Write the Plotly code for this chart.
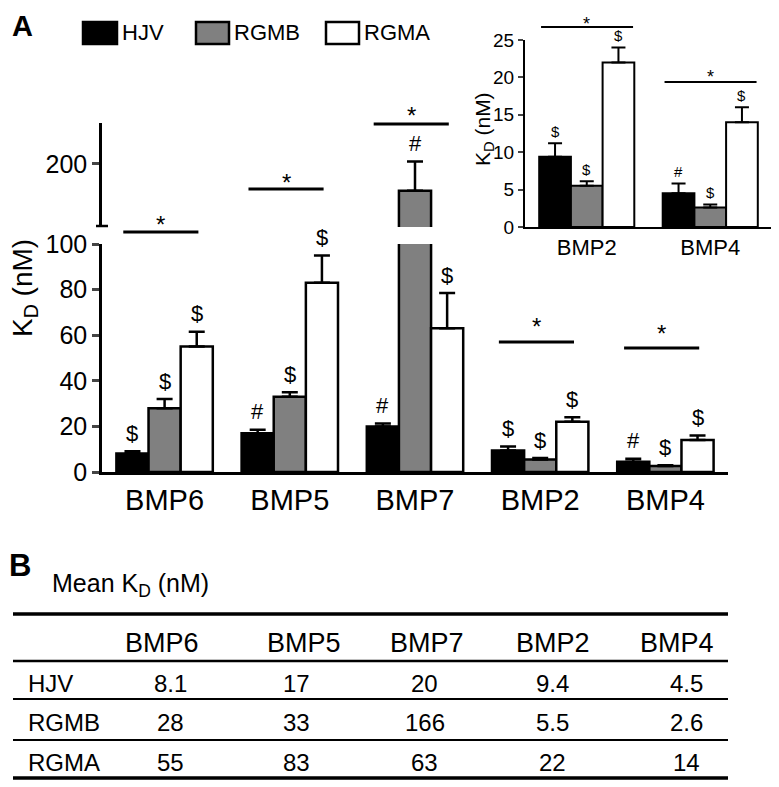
import plotly.graph_objects as go

# ---------------- data ----------------
categories = ["BMP6", "BMP5", "BMP7", "BMP2", "BMP4"]
series_names = ["HJV", "RGMB", "RGMA"]
hjv = [8.1, 17, 20, 9.4, 4.5]
rgmb = [28, 33, 166, 5.5, 2.6]
rgma = [55, 83, 63, 22, 14]
hjv_err = [1.0, 1.5, 1.3, 1.8, 1.3]
rgmb_err = [4.0, 2.0, 37, 0.6, 0.4]
rgma_err = [6.5, 12, 15.5, 2.0, 2.0]
hjv_marks = ["$", "#", "#", "$", "#"]
rgmb_marks = ["$", "$", "#", "$", "$"]
rgma_marks = ["$", "$", "$", "$", "$"]
inset_categories = ["BMP2", "BMP4"]
lower_ticks = [0, 20, 40, 60, 80, 100]
upper_ticks = [200]
inset_ticks = [0, 5, 10, 15, 20, 25]

values = [hjv, rgmb, rgma]
errors = [hjv_err, rgmb_err, rgma_err]
marks = [hjv_marks, rgmb_marks, rgma_marks]

# ---------------- style ----------------
W, H = 779, 787
OX, OY = 8, 8          # page body margin compensation
FONT = "Liberation Sans, Arial, sans-serif"
fills = ["#000000", "#808080", "#ffffff"]
LOW_RANGE = [0, 100]
UP_RANGE = [120, 252]
BARGAP = 0.23


def X(px):
    return (px - OX) / W


def Y(py):
    return 1 - (py - OY) / H


def note(**kw):
    d = dict(showarrow=False, xanchor="center", yanchor="middle")
    d.update(kw)
    return d


fig = go.Figure()

inset_idx = [categories.index(c) for c in inset_categories]

for k, name in enumerate(series_names):
    vals, errs = values[k], errors[k]
    common = dict(
        marker=dict(color=fills[k], line=dict(color="black", width=2.5)),
        showlegend=False, name=name, hoverinfo="skip",
    )
    fig.add_trace(go.Bar(
        x=categories, y=vals, xaxis="x", yaxis="y",
        error_y=dict(type="data", symmetric=False, array=errs,
                     arrayminus=[0] * len(errs), color="black",
                     thickness=2.5, width=8),
        **common))
    up_vals = [v if v > UP_RANGE[0] else None for v in vals]
    fig.add_trace(go.Bar(
        x=categories, y=up_vals, xaxis="x", yaxis="y2",
        error_y=dict(type="data", symmetric=False, array=errs,
                     arrayminus=[0] * len(errs), color="black",
                     thickness=2.5, width=8),
        **common))
    fig.add_trace(go.Bar(
        x=inset_categories, y=[vals[i] for i in inset_idx], xaxis="x3", yaxis="y3",
        error_y=dict(type="data", symmetric=False, array=[errs[i] for i in inset_idx],
                     arrayminus=[0] * len(inset_idx), color="black",
                     thickness=2, width=7),
        marker=dict(color=fills[k], line=dict(color="black", width=2)),
        showlegend=False, name=name, hoverinfo="skip"))

annotations = []
shapes = []

bw = (1 - BARGAP) / 3
for k in range(3):
    for i, c in enumerate(categories):
        top = values[k][i] + errors[k][i]
        yref = "y" if top <= LOW_RANGE[1] else "y2"
        annotations.append(note(
            x=i + (k - 1) * bw, y=top, xref="x", yref=yref, text=marks[k][i],
            yshift=18, font=dict(family=FONT, size=22, color="black")))
    for j, i in enumerate(inset_idx):
        top = values[k][i] + errors[k][i]
        annotations.append(note(
            x=j + (k - 1) * bw, y=top, xref="x3", yref="y3", text=marks[k][i],
            yshift=12, font=dict(family=FONT, size=15, color="black")))

sig_line_px = [232, 189, 124, 342, 348]
sig_star_px = [224, 182, 116, 326, 333]
for i in range(len(categories)):
    shapes.append(dict(type="line", xref="x", yref="paper",
                       x0=i - 0.33, x1=i + 0.27,
                       y0=Y(sig_line_px[i]), y1=Y(sig_line_px[i]),
                       line=dict(color="black", width=3)))
    annotations.append(note(x=i - 0.03, y=Y(sig_star_px[i]), xref="x", yref="paper",
                            text="*", font=dict(family=FONT, size=24, color="black")))

inset_line_px = [27, 82]
inset_star_px = [24, 77]
for j in range(len(inset_categories)):
    shapes.append(dict(type="line", xref="x3", yref="paper",
                       x0=j - 0.37, x1=j + 0.375,
                       y0=Y(inset_line_px[j]), y1=Y(inset_line_px[j]),
                       line=dict(color="black", width=2)))
    annotations.append(note(x=j, y=Y(inset_star_px[j]), xref="x3", yref="paper",
                            text="*", font=dict(family=FONT, size=18, color="black")))

# axis-break tick
shapes.append(dict(type="line", xref="paper", yref="paper",
                   x0=X(96), x1=X(108), y0=Y(226), y1=Y(226),
                   line=dict(color="black", width=2.5)))

legend_box_px = [(83, 117), (196, 229), (326, 359)]
for k, name in enumerate(series_names):
    x0, x1 = legend_box_px[k]
    shapes.append(dict(type="rect", xref="paper", yref="paper",
                       x0=X(x0), x1=X(x1), y0=Y(44), y1=Y(22),
                       fillcolor=fills[k], line=dict(color="black", width=2.5)))
    annotations.append(note(x=X(x1 + 3), y=Y(33), xref="paper", yref="paper",
                            text=name, xanchor="left",
                            font=dict(family=FONT, size=22, color="black")))

annotations.append(note(x=X(22), y=Y(26), xref="paper", yref="paper", text="<b>A</b>",
                        borderpad=0, font=dict(family=FONT, size=29, color="black")))
annotations.append(note(x=X(20), y=Y(565), xref="paper", yref="paper", text="<b>B</b>",
                        font=dict(family=FONT, size=31, color="black")))

annotations.append(note(x=X(25), y=Y(288), xref="paper", yref="paper",
                        text="K<sub>D</sub> (nM)", textangle=-90,
                        font=dict(family=FONT, size=28, color="black")))
annotations.append(note(x=X(484), y=Y(129), xref="paper", yref="paper",
                        text="K<sub>D</sub> (nM)", textangle=-90,
                        font=dict(family=FONT, size=21, color="black")))


def fmt(v):
    return str(int(v)) if float(v).is_integer() else f"{v:.1f}"


annotations.append(note(x=X(50), y=Y(585), xref="paper", yref="paper",
                        text="Mean K<sub>D</sub> (nM)", xanchor="left",
                        font=dict(family=FONT, size=25, color="black")))
header_x_px = [162, 304, 427, 553, 677]
value_x_px = [170, 296, 425, 552, 686]
row_y_px = [683, 722, 762]
for i, c in enumerate(categories):
    annotations.append(note(x=X(header_x_px[i]), y=Y(643), xref="paper", yref="paper",
                            text=c, font=dict(family=FONT, size=27, color="black")))
for k, name in enumerate(series_names):
    annotations.append(note(x=X(26), y=Y(row_y_px[k]), xref="paper", yref="paper",
                            text=name, xanchor="left",
                            font=dict(family=FONT, size=24, color="black")))
    for i in range(len(categories)):
        annotations.append(note(x=X(value_x_px[i]), y=Y(row_y_px[k]), xref="paper",
                                yref="paper", text=fmt(values[k][i]),
                                font=dict(family=FONT, size=24, color="black")))
table_lines = [(614, 3.5), (661, 2.5), (699, 2), (740, 2), (778, 3.5)]
for py, lw in table_lines:
    shapes.append(dict(type="line", xref="paper", yref="paper",
                       x0=X(13), x1=X(728), y0=Y(py), y1=Y(py),
                       line=dict(color="black", width=lw)))

axis_common = dict(showgrid=False, zeroline=False, showline=True, linecolor="black",
                   automargin=False)

fig.update_layout(
    width=W, height=H, autosize=False,
    margin=dict(l=0, r=0, t=0, b=0, pad=0, autoexpand=False),
    paper_bgcolor="white", plot_bgcolor="rgba(0,0,0,0)",
    barmode="group", bargap=BARGAP, bargroupgap=0,
    font=dict(family=FONT, color="black"),
    xaxis=dict(domain=[X(102), X(728)], anchor="y", linewidth=2.5, ticks="",
               tickfont=dict(size=29), **axis_common),
    yaxis=dict(domain=[Y(472), Y(244)], range=LOW_RANGE, anchor="x",
               tickvals=lower_ticks, ticks="outside", ticklen=7, tickwidth=2.5,
               linewidth=2.5, tickfont=dict(size=25), **axis_common),
    yaxis2=dict(domain=[Y(227), Y(123)], range=UP_RANGE, anchor="x",
                tickvals=upper_ticks, ticks="outside", ticklen=7, tickwidth=2.5,
                linewidth=2.5, tickfont=dict(size=25), **axis_common),
    xaxis3=dict(domain=[X(525), X(772)], anchor="y3", linewidth=2, ticks="",
                tickfont=dict(size=22), **axis_common),
    yaxis3=dict(domain=[Y(227), Y(40)], range=[0, 25], anchor="x3",
                tickvals=inset_ticks, ticks="outside", ticklen=5, tickwidth=2,
                linewidth=2, tickfont=dict(size=19), **axis_common),
    annotations=annotations,
    shapes=shapes,
)

fig.write_html("out.html")
